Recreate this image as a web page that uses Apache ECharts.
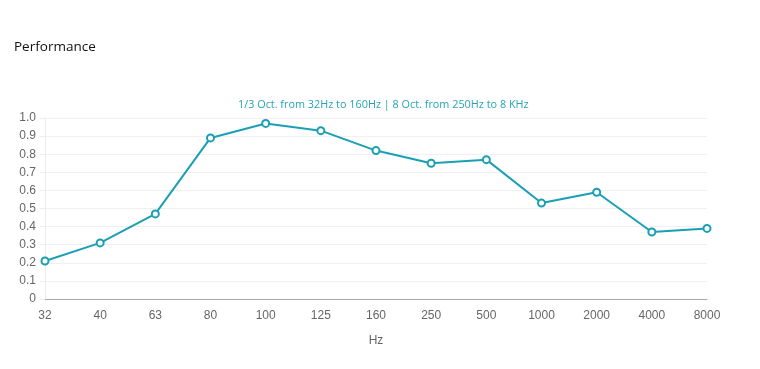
<!DOCTYPE html>
<html><head><meta charset="utf-8">
<script src="https://cdn.jsdelivr.net/npm/echarts@6/dist/echarts.min.js"></script>
<style>html,body{margin:0;padding:0;background:#fff}#c{width:760px;height:369px}</style>
</head><body><div id="c"></div>
<script>
const categories = ['32','40','63','80','100','125','160','250','500','1000','2000','4000','8000'];
const values = [0.21,0.31,0.47,0.89,0.97,0.93,0.82,0.75,0.77,0.53,0.59,0.37,0.39];
const yTicks = {min:0, max:1, interval:0.1};
const chart = echarts.init(document.getElementById('c'));
chart.setOption({
  animation:false,
  title:[
    {text:'Performance', left:9, top:35, textStyle:{fontFamily:'Open Sans', fontSize:13.5, fontWeight:'normal', color:'#111'}},
    {text:'1/3 Oct. from 32Hz to 160Hz | 8 Oct. from 250Hz to 8 KHz', left:233, top:94, textStyle:{fontFamily:'Open Sans', fontSize:10.85, fontWeight:'normal', color:'#26a3b8'}}
  ],
  grid:{left:45, right:53, top:118, bottom:70},
  xAxis:{type:'category', data:categories, boundaryGap:false,
    name:'Hz', nameLocation:'middle', nameGap:36,
    nameTextStyle:{fontFamily:'Liberation Sans', fontSize:12, color:'#666'},
    axisLine:{lineStyle:{color:'#aaa'}}, axisTick:{show:false},
    axisLabel:{fontFamily:'Liberation Sans', fontSize:12, color:'#666', margin:11},
    splitLine:{show:false}},
  yAxis:{type:'value', min:yTicks.min, max:yTicks.max, interval:yTicks.interval,
    axisLine:{show:true, lineStyle:{color:'#ececec'}},
    axisTick:{show:true, length:5, lineStyle:{color:'#ececec'}},
    axisLabel:{fontFamily:'Liberation Sans', fontSize:12, color:'#666', margin:9,
      formatter:v=>v===0?'0':v.toFixed(1)},
    splitLine:{lineStyle:{color:'#f0f0f0'}}},
  series:[{type:'line', data:values, symbol:'emptyCircle', symbolSize:7,
    lineStyle:{color:'#1a9fb4', width:2},
    itemStyle:{color:'#1a9fb4', borderWidth:2}}]
});
</script></body></html>
